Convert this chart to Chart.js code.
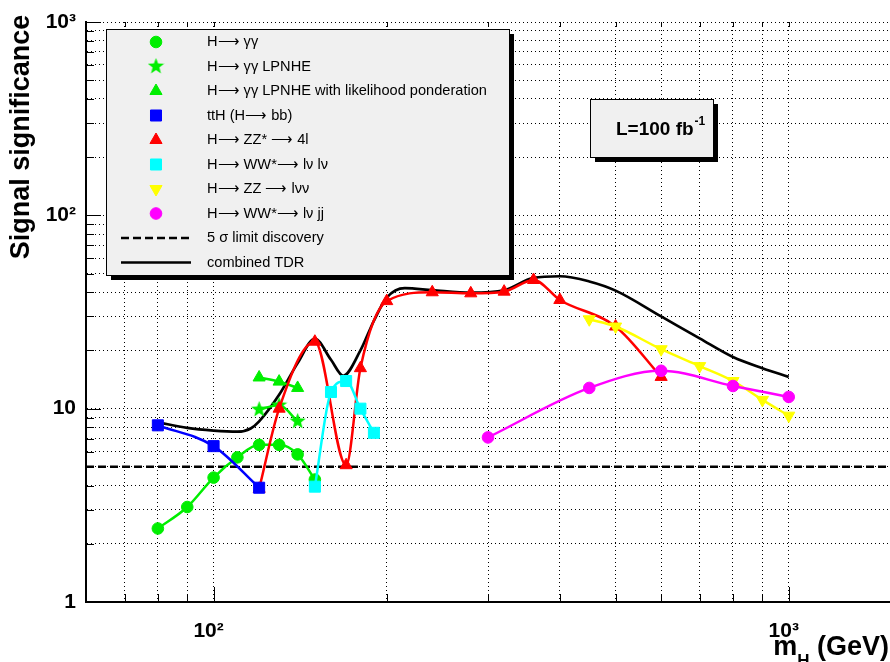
<!DOCTYPE html>
<html lang="en">
<head>
  <meta charset="UTF-8" />
  <title>Signal significance vs m_H</title>
  <script src="https://cdn.jsdelivr.net/npm/chart.js"></script>
  <style>
    html, body { margin: 0; padding: 0; background: #fff; overflow: hidden; }
  </style>
</head>
<body>
  <canvas id="chart" width="890" height="662"></canvas>

  <script>
    // H -> gamma gamma
    const massGG = [80, 90, 100, 110, 120, 130, 140, 150];
    const sigGG  = [2.4, 3.1, 4.4, 5.6, 6.5, 6.5, 5.8, 4.3];

    // H -> gamma gamma LPNHE (stars) and with likelihood ponderation (triangles)
    const massLPNHE    = [120, 130, 140];
    const sigLPNHEStar = [9.9, 10.4, 8.6];
    const sigLPNHETri  = [14.5, 13.8, 12.8];

    // ttH (H -> bb)
    const massTTH = [80, 100, 120];
    const sigTTH  = [8.2, 6.4, 3.9];

    // H -> ZZ* -> 4l
    const massZZ4l = [120, 130, 150, 170, 180, 200, 240, 280, 320, 360, 400, 500, 600];
    const sigZZ4l  = [3.85, 10, 22.2, 5.1, 16.2, 36, 40, 39.5, 40.3, 46.3, 36.5, 26.6, 14.6];

    // H -> WW* -> lv lv
    const massWW = [150, 160, 170, 180, 190];
    const sigWW  = [3.95, 12.2, 13.9, 10.0, 7.5];

    // H -> ZZ -> llvv
    const massZZllvv = [450, 500, 600, 700, 800, 900, 1000];
    const sigZZllvv  = [29, 26.6, 20.3, 16.6, 13.9, 11.1, 9.2];

    // H -> WW* -> lv jj
    const massWWjj = [300, 450, 600, 800, 1000];
    const sigWWjj  = [7.1, 12.8, 15.7, 13.1, 11.5];

    // combined TDR
    const massComb = [80, 90, 100, 110, 116, 120, 130, 140, 150, 160, 168, 180, 190, 200, 215, 240, 280, 320, 360, 400, 450, 500, 600, 700, 800, 900, 1000];
    const sigComb  = [8.5, 7.95, 7.7, 7.6, 7.9, 8.6, 11.8, 17.2, 23, 17.9, 14.8, 20, 28.5, 37.5, 42, 41, 39.8, 41, 47.5, 48.4, 45.5, 40.8, 30, 23.1, 18.5, 16.2, 14.6];

    // 5 sigma discovery limit
    const massLimit = [60, 1500];
    const sigLimit  = [5, 5];

    const xTicks = [70, 80, 90, 100, 200, 300, 400, 500, 600, 700, 800, 900, 1000];
    const yTicks = [1, 2, 3, 4, 5, 6, 7, 8, 9, 10, 20, 30, 40, 50, 60, 70, 80, 90, 100, 200, 300, 400, 500, 600, 700, 800, 900, 1000];
    const xTickLabels = { 100: '10\u00b2', 1000: '10\u00b3' };
    const yTickLabels = { 1: '1', 10: '10', 100: '10\u00b2', 1000: '10\u00b3' };

    const FONT = '"Liberation Sans", Arial, Helvetica, sans-serif';
    const green = '#00ee00', blue = '#0000ff', red = '#ff0000',
          cyan = '#00ffff', yellow = '#ffff00', magenta = '#ff00ff';
    const ARROW = '\u27f6';

    // filled five-point star marker
    function makeStar(color, size) {
      const c = document.createElement('canvas');
      c.width = size; c.height = size;
      const g = c.getContext('2d');
      const cx = size / 2, cy = size / 2, ro = size / 2, ri = ro * 0.42;
      g.beginPath();
      for (let i = 0; i < 10; i++) {
        const r = i % 2 ? ri : ro;
        const a = -Math.PI / 2 + i * Math.PI / 5;
        g.lineTo(cx + r * Math.cos(a), cy + r * Math.sin(a));
      }
      g.closePath();
      g.fillStyle = color;
      g.fill();
      return c;
    }
    const starImg = makeStar(green, 17);

    function series(label, xs, ys, color, style, radius, rotation) {
      return {
        label: label,
        data: xs.map((x, i) => ({ x: x, y: ys[i] })),
        showLine: true,
        borderColor: color,
        borderWidth: 2.5,
        backgroundColor: color,
        pointStyle: style,
        pointRadius: radius,
        pointRotation: rotation || 0,
        pointBackgroundColor: color,
        pointBorderColor: color,
        pointBorderWidth: 1,
        cubicInterpolationMode: 'monotone'
      };
    }

    const dsWWjj  = series('H' + ARROW + ' WW*' + ARROW + ' l\u03bd jj', massWWjj, sigWWjj, magenta, 'circle', 5.8);
    const dsLlvv  = series('H' + ARROW + ' ZZ ' + ARROW + ' l\u03bd\u03bd', massZZllvv, sigZZllvv, yellow, 'triangle', 7, 180);
    const dsWW    = series('H' + ARROW + ' WW*' + ARROW + ' l\u03bd l\u03bd', massWW, sigWW, cyan, 'rect', 7.8);
    const dsTTH   = series('ttH (H' + ARROW + ' bb)', massTTH, sigTTH, blue, 'rect', 7.8);
    const ds4l    = series('H' + ARROW + ' ZZ* ' + ARROW + ' 4l', massZZ4l, sigZZ4l, red, 'triangle', 7);
    const dsGG    = series('H' + ARROW + ' \u03b3\u03b3', massGG, sigGG, green, 'circle', 5.8);
    const dsStar  = series('H' + ARROW + ' \u03b3\u03b3 LPNHE', massLPNHE, sigLPNHEStar, green, starImg, 8.5);
    const dsTri   = series('H' + ARROW + ' \u03b3\u03b3 LPNHE with likelihood ponderation', massLPNHE, sigLPNHETri, green, 'triangle', 7);
    const dsComb  = Object.assign(series('combined TDR', massComb, sigComb, '#000', 'circle', 0), { borderWidth: 2.7 });
    const dsLimit = Object.assign(series('5 \u03c3 limit discovery', massLimit, sigLimit, '#000', 'circle', 0), { borderDash: [8, 4], borderWidth: 2.5 });

    // first in the list is drawn on top
    const datasets = [dsWWjj, dsLlvv, dsWW, dsTTH, ds4l, dsGG, dsStar, dsTri, dsComb, dsLimit];
    const legendOrder = [dsGG, dsStar, dsTri, dsTTH, ds4l, dsWW, dsLlvv, dsWWjj, dsLimit, dsComb];

    function shadowBox(ctx, x, y, w, h) {
      ctx.fillStyle = '#000';
      ctx.fillRect(x + 5, y + 5, w, h);
      ctx.fillStyle = '#f0f0f0';
      ctx.fillRect(x, y, w, h);
      ctx.strokeStyle = '#000';
      ctx.lineWidth = 1;
      ctx.setLineDash([]);
      ctx.strokeRect(x + 0.5, y + 0.5, w, h);
    }

    const overlay = {
      id: 'overlay',
      afterDraw(chart) {
        const ctx = chart.ctx;
        const { left, top, bottom } = chart.chartArea;
        const xs = chart.scales.x, ys = chart.scales.y;
        ctx.save();

        // tick marks inside the frame
        ctx.strokeStyle = '#000';
        ctx.lineWidth = 1;
        ctx.beginPath();
        yTicks.forEach(v => {
          const p = Math.round(ys.getPixelForValue(v)) + 0.5;
          const len = yTickLabels[v] ? 15 : 8;
          ctx.moveTo(left, p); ctx.lineTo(left + len, p);
        });
        xTicks.forEach(v => {
          const p = Math.round(xs.getPixelForValue(v)) + 0.5;
          const len = xTickLabels[v] ? 15 : 8;
          ctx.moveTo(p, bottom); ctx.lineTo(p, bottom - len);
          ctx.moveTo(p, top); ctx.lineTo(p, top + 5);
        });
        ctx.stroke();

        // axis titles
        ctx.fillStyle = '#000';
        ctx.font = 'bold 27px ' + FONT;
        ctx.textAlign = 'center';
        ctx.textBaseline = 'alphabetic';
        ctx.save();
        ctx.translate(29, 137);
        ctx.rotate(-Math.PI / 2);
        ctx.fillText('Signal significance', 0, 0);
        ctx.restore();

        ctx.textAlign = 'left';
        const gev = ' (GeV)';
        const wGev = ctx.measureText(gev).width;
        ctx.font = 'bold 17px ' + FONT;
        const wH = ctx.measureText('H').width;
        ctx.font = 'bold 27px ' + FONT;
        const wM = ctx.measureText('m').width;
        const tx = 889 - wGev - wH - wM;
        ctx.fillText('m', tx, 655);
        ctx.fillText(gev, tx + wM + wH, 655);
        ctx.font = 'bold 17px ' + FONT;
        ctx.fillText('H', tx + wM, 666);

        // legend
        shadowBox(ctx, 106, 29, 403, 246);
        ctx.font = '14.6px ' + FONT;
        ctx.textBaseline = 'middle';
        legendOrder.forEach((ds, i) => {
          const y = 42 + i * 24.5;
          ctx.save();
          if (ds.pointRadius > 0) {
            ctx.fillStyle = ds.pointBackgroundColor;
            ctx.strokeStyle = ds.pointBorderColor;
            ctx.lineWidth = 1;
            Chart.helpers.drawPoint(ctx, {
              pointStyle: ds.pointStyle,
              radius: ds.pointRadius,
              rotation: ds.pointRotation,
              borderWidth: 1
            }, 156, y);
          } else {
            ctx.strokeStyle = ds.borderColor;
            ctx.lineWidth = ds.borderWidth;
            ctx.setLineDash(ds.borderDash || []);
            ctx.beginPath();
            ctx.moveTo(121, y); ctx.lineTo(191, y);
            ctx.stroke();
          }
          ctx.restore();
          ctx.fillStyle = '#000';
          ctx.fillText(ds.label, 207, y);
        });

        // luminosity box
        shadowBox(ctx, 590, 99, 123, 58);
        ctx.fillStyle = '#000';
        ctx.textBaseline = 'alphabetic';
        ctx.font = 'bold 19px ' + FONT;
        const lum = 'L=100 fb';
        ctx.fillText(lum, 616, 135);
        const wl = ctx.measureText(lum).width;
        ctx.font = 'bold 12px ' + FONT;
        ctx.fillText('-1', 616 + wl + 1, 125);

        ctx.restore();
      }
    };

    const ctx = document.getElementById('chart').getContext('2d');
    new Chart(ctx, {
      type: 'scatter',
      data: { datasets: datasets },
      options: {
        responsive: false,
        animation: false,
        layout: { autoPadding: false, padding: { top: 22, right: 0, left: 0, bottom: 0 } },
        plugins: {
          legend: { display: false },
          tooltip: { enabled: false }
        },
        scales: {
          x: {
            type: 'logarithmic',
            min: 60,
            max: 1500,
            afterBuildTicks: s => { s.ticks = xTicks.map(v => ({ value: v })); },
            afterFit: s => { s.height = 60; s.paddingLeft = 0; s.paddingRight = 0; },
            grid: { color: '#000', lineWidth: 1, drawTicks: false },
            border: { display: true, color: '#000', width: 2, dash: [1, 3] },
            ticks: {
              autoSkip: false,
              maxRotation: 0,
              padding: 17,
              labelOffset: -5,
              color: '#000',
              font: { family: FONT, size: 21, weight: 'bold' },
              callback: v => xTickLabels[v] || ''
            }
          },
          y: {
            type: 'logarithmic',
            min: 1,
            max: 1000,
            afterBuildTicks: s => { s.ticks = yTicks.map(v => ({ value: v })); },
            afterFit: s => { s.width = 86; s.paddingTop = 0; s.paddingBottom = 0; },
            grid: { color: '#000', lineWidth: 1, drawTicks: false },
            border: { display: true, color: '#000', width: 2, dash: [1, 3] },
            ticks: {
              autoSkip: false,
              padding: 10,
              color: '#000',
              font: { family: FONT, size: 21, weight: 'bold' },
              callback: v => yTickLabels[v] || ''
            }
          }
        }
      },
      plugins: [overlay]
    });
  </script>
</body>
</html>
